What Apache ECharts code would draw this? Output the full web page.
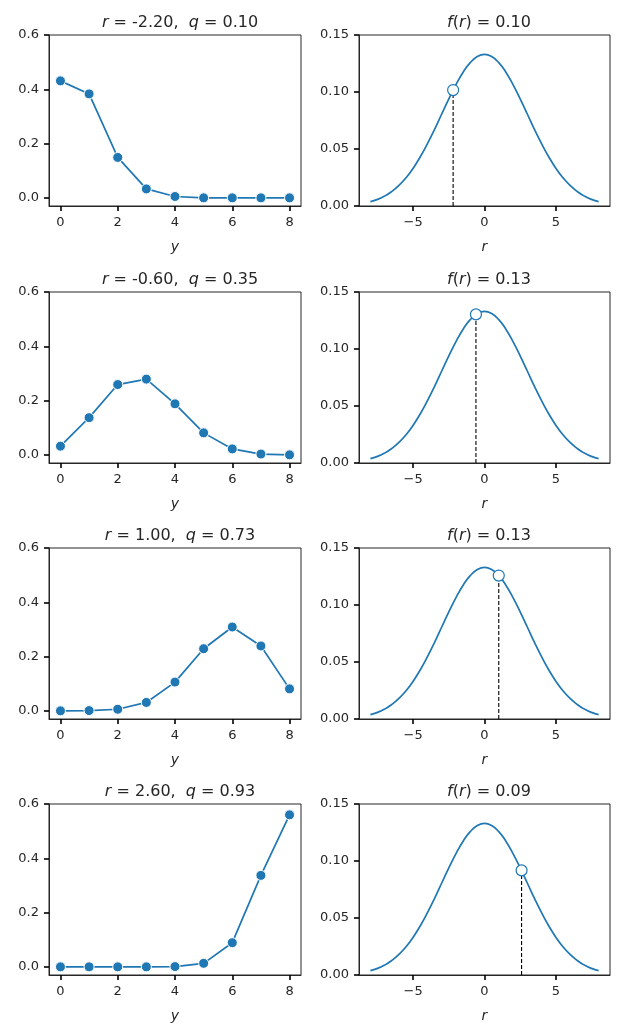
<!DOCTYPE html>
<html>
<head>
    <meta charset="utf-8">
    <title>binomial / normal</title>
    <script src="https://cdn.jsdelivr.net/npm/echarts@6/dist/echarts.min.js"></script>
    <style>
        html, body { margin: 0; padding: 0; background: #fff; }
        #chart { width: 618px; height: 1029px; }
    </style>
</head>
<body>
<div id="chart"></div>
<script>
    // counts on the left panels
    var yCounts = [0, 1, 2, 3, 4, 5, 6, 7, 8];

    // one row per panel pair
    var rValues = [-2.20, -0.60, 1.00, 2.60];
    var qValues = [0.10, 0.35, 0.73, 0.93];
    var fValues = [0.1017, 0.1304, 0.1258, 0.0918];

    var probRow1 = [0.431, 0.383, 0.149, 0.033, 0.005, 0.000, 0.000, 0.000, 0.000];
    var probRow2 = [0.032, 0.137, 0.259, 0.279, 0.188, 0.081, 0.022, 0.003, 0.000];
    var probRow3 = [0.000, 0.001, 0.006, 0.031, 0.106, 0.229, 0.309, 0.239, 0.081];
    var probRow4 = [0.000, 0.000, 0.000, 0.000, 0.001, 0.013, 0.089, 0.337, 0.560];
    var probRows = [probRow1, probRow2, probRow3, probRow4];

    // density curve
    var curveR = [-8, -7.5, -7, -6.5, -6, -5.5, -5, -4.5, -4, -3.5, -3, -2.5, -2, -1.5, -1, -0.5,
                  0, 0.5, 1, 1.5, 2, 2.5, 3, 3.5, 4, 4.5, 5, 5.5, 6, 6.5, 7, 7.5, 8];
    var curveF = [0.0038, 0.0058, 0.0087, 0.0127, 0.0180, 0.0248, 0.0332, 0.0432, 0.0547, 0.0673,
                  0.0807, 0.0940, 0.1065, 0.1174, 0.1258, 0.1311, 0.1330, 0.1311, 0.1258, 0.1174,
                  0.1065, 0.0940, 0.0807, 0.0673, 0.0547, 0.0432, 0.0332, 0.0248, 0.0180, 0.0127,
                  0.0087, 0.0058, 0.0038];

    var leftYTicks = [0, 0.2, 0.4, 0.6];
    var leftXTicks = [0, 2, 4, 6, 8];
    var rightYTicks = [0, 0.05, 0.10, 0.15];
    var rightXTicks = [-5, 0, 5];

    var blue = '#1f77b4';
    var ink = '#262626';
    var rowTops = [35, 292, 548, 804];
    var plotH = 171;

    var chart = echarts.init(document.getElementById('chart'), null, { renderer: 'canvas' });

    var grids = [], xAxes = [], yAxes = [], series = [], titles = [];

    function axisStyle(ax, ticks, fmt) {
        ax.axisLine = { show: true, onZero: false, lineStyle: { color: ink, width: 1 } };
        ax.splitLine = { show: false };
        // thin ticks get washed out by antialiasing, so a bit heavier than 1px
        ax.axisTick = { show: true, inside: false, length: 5, customValues: ticks,
            lineStyle: { color: '#000', width: 1.6 } };
        ax.axisLabel = { customValues: ticks, formatter: fmt, color: ink, fontSize: 13,
            fontFamily: 'DejaVu Sans', margin: 10 };
        return ax;
    }

    var nameStyle = { fontStyle: 'italic', fontSize: 14, color: ink, fontFamily: 'DejaVu Sans' };
    var titleStyle = { fontSize: 16, fontWeight: 'normal', color: ink, fontFamily: 'DejaVu Sans',
        rich: { i: { fontStyle: 'italic', fontSize: 16, color: ink, fontFamily: 'DejaVu Sans' } } };

    var curve = curveR.map(function (r, i) { return [r, curveF[i]]; });

    for (var i = 0; i < 4; i++) {
        var gL = i * 2, gR = i * 2 + 1;
        grids.push({ left: 49, width: 252, top: rowTops[i], height: plotH, show: true,
            borderColor: ink, borderWidth: 1, backgroundColor: 'transparent' });
        grids.push({ left: 359, width: 251, top: rowTops[i], height: plotH, show: true,
            borderColor: ink, borderWidth: 1, backgroundColor: 'transparent' });

        xAxes.push(axisStyle({ type: 'value', gridIndex: gL, min: -0.4, max: 8.4,
            name: 'y', nameLocation: 'middle', nameGap: 34, nameTextStyle: nameStyle },
            leftXTicks, function (v) { return String(v); }));
        xAxes.push(axisStyle({ type: 'value', gridIndex: gR, min: -8.8, max: 8.8,
            name: 'r', nameLocation: 'middle', nameGap: 34, nameTextStyle: nameStyle },
            rightXTicks, function (v) { return v < 0 ? '\u2212' + Math.abs(v) : String(v); }));
        yAxes.push(axisStyle({ type: 'value', gridIndex: gL, min: -0.03, max: 0.6 },
            leftYTicks, function (v) { return v.toFixed(1); }));
        yAxes.push(axisStyle({ type: 'value', gridIndex: gR, min: 0, max: 0.15 },
            rightYTicks, function (v) { return v.toFixed(2); }));

        titles.push({
            text: '{i|r} = ' + rValues[i].toFixed(2) + ',  {i|q} = ' + qValues[i].toFixed(2),
            left: 175, top: rowTops[i] - 25, textAlign: 'center', textStyle: titleStyle
        });
        titles.push({
            text: '{i|f}({i|r}) = ' + fValues[i].toFixed(2),
            left: 484, top: rowTops[i] - 25, textAlign: 'center', textStyle: titleStyle
        });

        series.push({
            type: 'line', xAxisIndex: gL, yAxisIndex: gL,
            data: yCounts.map(function (y, k) { return [y, probRows[i][k]]; }),
            symbol: 'circle', symbolSize: 10, showSymbol: true,
            lineStyle: { color: blue, width: 1.7 },
            itemStyle: { color: blue, borderColor: '#fff', borderWidth: 1 },
            silent: true, animation: false
        });
        series.push({
            type: 'line', xAxisIndex: gR, yAxisIndex: gR, data: curve,
            smooth: true, showSymbol: false, lineStyle: { color: blue, width: 1.7 },
            silent: true, animation: false
        });
        series.push({
            type: 'line', xAxisIndex: gR, yAxisIndex: gR,
            data: [[rValues[i], 0], [rValues[i], fValues[i]]],
            showSymbol: false, lineStyle: { color: '#000', width: 1.1, type: [4, 2] },
            silent: true, animation: false, z: 3
        });
        series.push({
            type: 'scatter', xAxisIndex: gR, yAxisIndex: gR,
            data: [[rValues[i], fValues[i]]],
            symbol: 'circle', symbolSize: 11,
            itemStyle: { color: '#fff', borderColor: blue, borderWidth: 1.2, opacity: 1 },
            silent: true, animation: false, z: 5
        });
    }

    chart.setOption({
        animation: false,
        backgroundColor: '#fff',
        title: titles,
        grid: grids,
        xAxis: xAxes,
        yAxis: yAxes,
        series: series
    });

    window.onresize = function () {
        chart.resize();
    };
</script>
</body>
</html>
